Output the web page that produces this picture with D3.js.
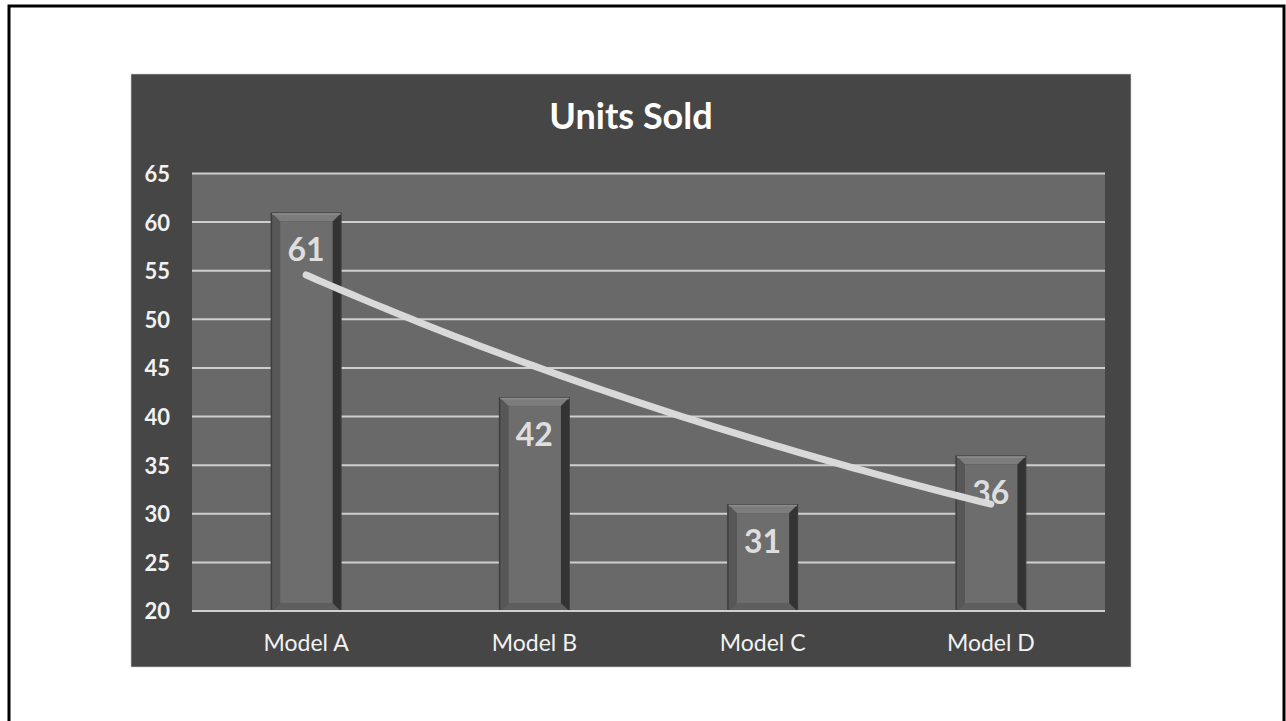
<!DOCTYPE html>
<html><head><meta charset="utf-8">
<script src="https://cdn.jsdelivr.net/npm/d3@7"></script>
<style>body{margin:0;background:#fff}svg{display:block}text{font-family:Lato,"Noto Sans",sans-serif}</style>
</head><body><svg id="c" width="1286" height="721"></svg>
<script>
const categories = ["Model A","Model B","Model C","Model D"];
const unitsSold = [61,42,31,36];
const yTicks = [20,25,30,35,40,45,50,55,60,65];
const chartTitle = "Units Sold";

const svg = d3.select("#c");
// outer frame
svg.append("rect").attr("x",9).attr("y",6).attr("width",1275).attr("height",740)
  .attr("fill","#fff").attr("stroke","#000").attr("stroke-width",3);
// chart panel
svg.append("rect").attr("x",131).attr("y",74).attr("width",1000).attr("height",593)
  .attr("fill","#464646").attr("stroke","#d0d0d0").attr("stroke-width",0.6);

const x0=192, x1=1105, yTop=173.5, yBot=611;
const x = d3.scaleBand().domain(categories).range([x0,x1]).paddingInner(0).paddingOuter(0);
const y = d3.scaleLinear().domain([20,65]).range([yBot,yTop]);

svg.append("rect").attr("x",x0).attr("y",yTop).attr("width",x1-x0).attr("height",yBot-yTop).attr("fill","#696969");

// grid
svg.append("g").selectAll("line").data(yTicks.filter(t=>t>20)).join("line")
  .attr("x1",x0).attr("x2",x1).attr("y1",d=>y(d)).attr("y2",d=>y(d))
  .attr("stroke","#cfcfcf").attr("stroke-width",2);

// y axis labels
const yAxis = d3.axisLeft(y).tickValues(yTicks).tickSize(0).tickPadding(0);
const ya = svg.append("g").attr("transform",`translate(${170},0)`).call(yAxis);
ya.select(".domain").remove();
ya.selectAll("text").attr("fill","#f2f2f2").attr("font-size",22).attr("font-weight","bold")
  .attr("font-family","Lato").attr("dy","0.36em");

// bars with bevel
const bw = 71, bv = 8;
const bars = svg.append("g");
categories.forEach((c,i)=>{
  const bx = x(c)+x.bandwidth()/2 - bw/2, by = y(unitsSold[i]), bh = yBot-by;
  const g = bars.append("g");
  g.append("rect").attr("x",bx).attr("y",by).attr("width",bw).attr("height",bh).attr("fill","#3e3e3e");
  const P = (pts,fill)=>g.append("polygon").attr("points",pts.map(p=>p.join(",")).join(" ")).attr("fill",fill);
  const L=bx+1.5, R=bx+bw-1, T=by+1, B=yBot;
  P([[L,T],[L+bv,T+bv],[L+bv,B-bv],[L,B]],"#575757");
  P([[R,T],[R-bv,T+bv],[R-bv,B-bv],[R,B]],"#333333");
  P([[L,T],[R,T],[R-bv,T+bv],[L+bv,T+bv]],"#7c7c7c");
  P([[L,B],[R,B],[R-bv,B-bv],[L+bv,B-bv]],"#5e5e5e");
  g.append("line").attr("x1",L).attr("x2",R).attr("y1",T+0.5).attr("y2",T+0.5).attr("stroke","#8e8e8e").attr("stroke-width",1.5);
  g.append("rect").attr("x",L+bv).attr("y",T+bv).attr("width",R-L-2*bv).attr("height",Math.max(0,B-T-2*bv)).attr("fill","#6d6d6d");
});

// bottom axis line
svg.append("line").attr("x1",x0).attr("x2",x1).attr("y1",yBot).attr("y2",yBot).attr("stroke","#cfcfcf").attr("stroke-width",2);

// value labels
svg.append("g").selectAll("text").data(unitsSold).join("text")
  .attr("x",(d,i)=>x(categories[i])+x.bandwidth()/2)
  .attr("y",d=>y(d)+49)
  .attr("text-anchor","middle").attr("font-size",32).attr("font-weight","bold")
  .attr("fill","#dedede").text(d=>d);

// exponential trendline (least squares fit of ln(y) on index)
const n = unitsSold.length;
const xs = d3.range(1,n+1), ls = unitsSold.map(v=>Math.log(v));
const mx = d3.mean(xs), ml = d3.mean(ls);
const slope = d3.sum(xs.map((xv,i)=>(xv-mx)*(ls[i]-ml)))/d3.sum(xs.map(xv=>(xv-mx)*(xv-mx)));
const icpt = ml - slope*mx;
const xi = d3.scaleLinear().domain([1,n]).range([x(categories[0])+x.bandwidth()/2, x(categories[n-1])+x.bandwidth()/2]);
const trend = d3.range(1,n+0.001,0.05).map(t=>[xi(t), y(Math.exp(icpt+slope*t))]);
svg.append("path").attr("d",d3.line().curve(d3.curveBasis)(trend)).attr("fill","none")
  .attr("stroke","#d9d9d9").attr("stroke-width",7).attr("stroke-linecap","round");

// category labels
const xAxis = d3.axisBottom(x).tickSize(0).tickPadding(0);
const xa = svg.append("g").attr("transform",`translate(0,${651})`).call(xAxis);
xa.select(".domain").remove();
xa.selectAll("text").attr("fill","#f2f2f2").attr("font-size",23).attr("font-family","Lato").attr("dy",0);

// title
svg.append("text").attr("x",631).attr("y",129).attr("text-anchor","middle")
  .attr("font-size",36).attr("font-weight","bold").attr("fill","#ffffff").text(chartTitle);
</script></body></html>
